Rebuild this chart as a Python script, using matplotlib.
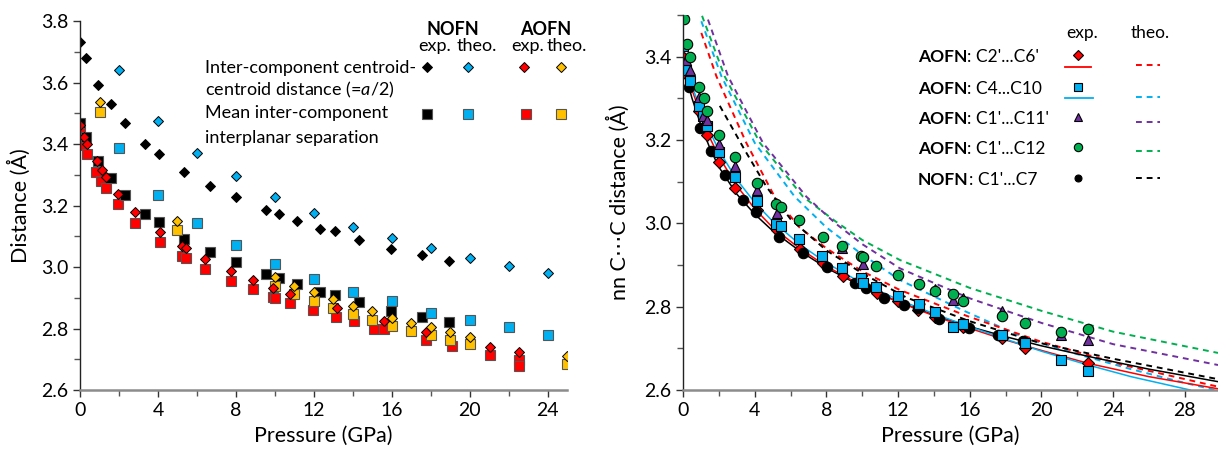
import matplotlib
matplotlib.use('Agg')
import matplotlib.pyplot as plt
from matplotlib.ticker import MultipleLocator

plt.rcParams['font.family'] = ['Lato', 'DejaVu Sans']
plt.rcParams['mathtext.fontset'] = 'custom'
plt.rcParams['mathtext.rm'] = 'Lato'
plt.rcParams['mathtext.it'] = 'Lato:italic'

RED = '#FF0000'
BLUE = '#00B0F0'
GOLD = '#FFC000'
PURPLE = '#7030A0'
GREEN = '#00B050'

# ---------------- left panel data ----------------
nofn_exp_P = [0, 0.29, 0.94, 1.57, 2.31, 3.33, 4.05, 5.33, 6.67, 8.02, 9.57, 10.19, 11.16,
              12.34, 13.08, 14.32, 15.98, 17.57, 18.96]
nofn_exp_cent = [3.733, 3.679, 3.592, 3.53, 3.467, 3.40, 3.368, 3.309, 3.264, 3.228, 3.185, 3.172,
                 3.15, 3.124, 3.116, 3.087, 3.059, 3.038, 3.021]
nofn_exp_plane = [3.467, 3.424, 3.344, 3.289, 3.234, 3.172, 3.145, 3.09, 3.048, 3.015, 2.976, 2.963,
                  2.944, 2.919, 2.91, 2.885, 2.857, 2.837, 2.82]

nofn_theo_P = [2, 4, 6, 8, 10, 12, 14, 16, 18, 20, 22, 24]
nofn_theo_cent = [3.641, 3.474, 3.371, 3.296, 3.229, 3.175, 3.131, 3.094, 3.061, 3.029, 3.003, 2.979]
nofn_theo_plane = [3.388, 3.234, 3.142, 3.072, 3.01, 2.96, 2.919, 2.889, 2.851, 2.828, 2.804, 2.778]

aofn_theo_P = [1, 5, 10, 11, 12, 13, 14, 15, 16, 17, 18, 19, 20, 25]
aofn_theo_cent = [3.536, 3.15, 2.966, 2.939, 2.919, 2.895, 2.873, 2.857, 2.835, 2.817, 2.805, 2.788,
                  2.773, 2.709]
aofn_theo_plane = [3.504, 3.121, 2.938, 2.912, 2.889, 2.868, 2.846, 2.828, 2.809, 2.793, 2.778, 2.763,
                   2.749, 2.686]

aofn_exp_cent_P = [0, 0.2, 0.37, 0.85, 1.11, 1.33, 1.93, 2.82, 4.12, 5.21, 5.44, 6.44, 7.74, 8.89,
                   9.91, 10.77, 13.19, 15.6, 17.78, 21.06, 22.56]
aofn_exp_cent = [3.462, 3.424, 3.40, 3.344, 3.315, 3.294, 3.237, 3.179, 3.115, 3.069, 3.061, 3.025,
                 2.987, 2.958, 2.931, 2.912, 2.868, 2.824, 2.79, 2.739, 2.725]
aofn_exp_plane_P = [0, 0.17, 0.37, 0.82, 1.08, 1.33, 1.93, 2.82, 4.12, 5.21, 5.44, 6.44, 7.74, 8.89,
                    9.91, 10.0, 10.77, 11.97, 13.13, 14.05, 15.09, 15.6, 17.78, 19.08, 21.06, 22.56, 22.56]
aofn_exp_plane = [3.437, 3.397, 3.368, 3.31, 3.28, 3.258, 3.204, 3.144, 3.082, 3.037, 3.028, 2.992,
                  2.955, 2.928, 2.903, 2.898, 2.884, 2.86, 2.838, 2.824, 2.80, 2.797, 2.763, 2.743,
                  2.713, 2.698, 2.679]

# ---------------- right panel data ----------------
c2c6_P = [0.06, 0.22, 0.88, 1.36, 1.99, 2.9, 4.1, 5.22, 6.52, 7.83, 8.9, 10.8, 12.01, 13.12, 14.05,
          15.63, 17.77, 19.07, 22.6]
c2c6 = [3.397, 3.357, 3.27, 3.212, 3.148, 3.084, 3.032, 2.984, 2.938, 2.904, 2.874, 2.832, 2.813,
        2.792, 2.776, 2.752, 2.724, 2.70, 2.664]

c4c10_P = [0, 0.19, 0.41, 0.88, 1.12, 1.36, 1.99, 2.88, 4.13, 5.18, 5.46, 6.47, 7.77, 8.88, 9.93,
           10.02, 10.76, 12.01, 13.16, 14.05, 15.08, 15.63, 17.77, 19.07, 21.08, 22.6]
c4c10 = [3.426, 3.367, 3.341, 3.281, 3.257, 3.234, 3.17, 3.112, 3.054, 2.999, 2.994, 2.962, 2.922,
         2.892, 2.868, 2.857, 2.846, 2.825, 2.806, 2.788, 2.752, 2.758, 2.732, 2.714, 2.673, 2.646]

c1c11_P = [0.19, 0.41, 0.88, 1.12, 1.36, 1.99, 2.88, 4.14, 5.22, 8.85, 10.02, 14.05, 15.08, 15.63,
           17.77, 21.08, 22.6]
c1c11 = [3.393, 3.367, 3.303, 3.258, 3.249, 3.19, 3.138, 3.08, 3.024, 2.94, 2.902, 2.843, 2.816,
         2.822, 2.789, 2.732, 2.72]

c1c12_P = [0.04, 0.22, 0.41, 0.88, 1.15, 1.36, 1.99, 2.88, 4.14, 5.2, 5.48, 6.47, 7.79, 8.88, 9.91,
           10.06, 10.76, 12.01, 13.16, 14.05, 15.08, 15.63, 17.77, 19.07, 21.08, 22.6]
c1c12 = [3.491, 3.43, 3.399, 3.328, 3.301, 3.269, 3.212, 3.158, 3.096, 3.047, 3.04, 3.008, 2.967,
         2.946, 2.922, 2.919, 2.898, 2.875, 2.854, 2.837, 2.83, 2.813, 2.777, 2.762, 2.74, 2.746]

c1c7_P = [0.04, 0.33, 0.97, 1.58, 2.32, 3.35, 4.07, 5.37, 6.71, 8.05, 9.59, 10.2, 11.21, 12.33,
          13.12, 14.3, 15.97, 17.59, 18.98]
c1c7 = [3.385, 3.327, 3.229, 3.174, 3.116, 3.055, 3.026, 2.968, 2.928, 2.894, 2.856, 2.844, 2.822,
        2.804, 2.798, 2.77, 2.748, 2.732, 2.718]

# fitted curves (solid = exp. fit, dashed = theo.)
fit_red_P = [0, 0.5, 1, 1.5, 2, 3, 4, 5, 6.5, 8, 10, 12, 14, 16, 18, 20, 22.6, 26, 29.85]
fit_red = [3.40, 3.32, 3.26, 3.205, 3.16, 3.09, 3.035, 2.99, 2.94, 2.897, 2.85, 2.812, 2.778, 2.748,
           2.72, 2.695, 2.664, 2.632, 2.603]
fit_blue_P = [0, 0.5, 1, 1.5, 2, 3, 4, 5, 6.5, 8, 10, 12, 14, 16, 18, 20, 22.6, 25, 28.3]
fit_blue = [3.41, 3.33, 3.27, 3.22, 3.175, 3.105, 3.05, 3.005, 2.95, 2.905, 2.856, 2.817, 2.783,
            2.752, 2.722, 2.693, 2.66, 2.632, 2.60]
fit_black_P = [0, 0.5, 1, 1.5, 2, 3, 4, 5, 6.5, 8, 10, 12, 14, 16, 18, 20, 23, 26, 29.85]
fit_black = [3.38, 3.30, 3.235, 3.18, 3.135, 3.07, 3.022, 2.982, 2.934, 2.893, 2.848, 2.812, 2.78,
             2.752, 2.728, 2.706, 2.677, 2.65, 2.62]

theo_red_P = [1.02, 1.86, 3.53, 5.11, 6.5, 8, 10, 12.1, 15.82, 19.9, 24.56, 29.85]
theo_red = [3.457, 3.353, 3.193, 3.064, 2.99, 2.94, 2.885, 2.84, 2.778, 2.717, 2.66, 2.608]
theo_blue_P = [1.02, 2.14, 4.0, 6.23, 8, 10, 12.1, 15.63, 19.07, 22, 25, 28, 29.7]
theo_blue = [3.485, 3.353, 3.193, 3.064, 2.99, 2.925, 2.864, 2.791, 2.725, 2.686, 2.65, 2.617, 2.60]
theo_purple_P = [1.39, 2.51, 4.46, 6.88, 8.5, 10, 12.1, 16, 20, 24, 29.85]
theo_purple = [3.489, 3.353, 3.193, 3.064, 3.0, 2.95, 2.892, 2.82, 2.761, 2.71, 2.66]
theo_green_P = [1.06, 2.32, 4.29, 6.69, 8.5, 10, 12.1, 16, 20, 24, 29.85]
theo_green = [3.498, 3.353, 3.193, 3.064, 3.005, 2.96, 2.912, 2.845, 2.79, 2.74, 2.689]
theo_black_P = [2.05, 3.44, 4.65, 6, 8, 10, 12.46, 16, 19.9, 24, 29.85]
theo_black = [3.282, 3.176, 3.088, 3.01, 2.935, 2.88, 2.822, 2.765, 2.713, 2.675, 2.626]


def style_axes(ax, xmax, xlabel, ylabel):
    for s in ['top', 'right']:
        ax.spines[s].set_visible(False)
    ax.spines['bottom'].set_color('#8c8c8c')
    ax.spines['bottom'].set_linewidth(1.8)
    ax.spines['left'].set_color('#222222')
    ax.spines['left'].set_linewidth(1.0)
    ax.xaxis.set_major_locator(MultipleLocator(4))
    ax.xaxis.set_minor_locator(MultipleLocator(2))
    ax.yaxis.set_major_locator(MultipleLocator(0.2))
    ax.yaxis.set_minor_locator(MultipleLocator(0.1))
    ax.tick_params(which='major', length=5, width=1, labelsize=14, color='#333333')
    ax.tick_params(which='minor', length=4, width=1, color='#555555')
    ax.set_xlim(0, xmax)
    ax.set_xlabel(xlabel, fontsize=15.5, labelpad=5)
    ax.set_ylabel(ylabel, fontsize=15.5)
    ax.yaxis.set_major_formatter(plt.FuncFormatter(lambda v, p: f'{v:.1f}'))


fig = plt.figure(figsize=(12.18, 4.57), dpi=100)
ax1 = fig.add_axes([0.0657, 0.1466, 0.3998, 0.8074])
ax2 = fig.add_axes([0.5608, 0.1466, 0.4392, 0.8206])

# ---------------- left panel ----------------
sq = dict(marker='s', ms=7.5, ls='none', mec='#555555', mew=0.8)
dm = dict(marker='D', ms=5, ls='none', mec='black', mew=0.7)
ax1.plot(aofn_exp_plane_P, aofn_exp_plane, mfc=RED, **sq)
ax1.plot(nofn_exp_P, nofn_exp_plane, mfc='black', **sq)
ax1.plot(nofn_theo_P, nofn_theo_plane, mfc=BLUE, **sq)
ax1.plot(aofn_theo_P, aofn_theo_plane, mfc=GOLD, **sq)
ax1.plot(aofn_exp_cent_P, aofn_exp_cent, mfc=RED, **dm)
ax1.plot(nofn_exp_P, nofn_exp_cent, mfc='black', **dm)
ax1.plot(nofn_theo_P, nofn_theo_cent, mfc=BLUE, **dm)
ax1.plot(aofn_theo_P, aofn_theo_cent, mfc=GOLD, **dm)
ax1.set_ylim(2.6, 3.8)
style_axes(ax1, 25, 'Pressure (GPa)', 'Distance (Å)')
ax1.yaxis.set_label_coords(-0.1, 0.5)

# left legend (hand placed, like the original)
t = ax1.transAxes
ax1.text(0.257, 0.873, 'Inter-component centroid-', transform=t, fontsize=13, va='center')
ax1.text(0.257, 0.813, r'centroid distance (=$\mathit{a}$/2)', transform=t, fontsize=13, va='center')
ax1.text(0.257, 0.751, 'Mean inter-component', transform=t, fontsize=13, va='center')
ax1.text(0.257, 0.683, 'interplanar separation', transform=t, fontsize=13, va='center')
ax1.text(0.766, 0.978, 'NOFN', transform=t, fontsize=13, weight='bold', ha='center', va='center')
ax1.text(0.957, 0.978, 'AOFN', transform=t, fontsize=13, weight='bold', ha='center', va='center')
for x, s in [(0.729, 'exp.'), (0.815, 'theo.'), (0.920, 'exp.'), (1.0, 'theo.')]:
    ax1.text(x, 0.932, s, transform=t, fontsize=13, ha='center', va='center')
for x, c in [(0.7125, 'black'), (0.797, BLUE), (0.912, RED), (0.988, GOLD)]:
    ax1.plot([x], [0.875], transform=t, mfc=c, clip_on=False, **dm)
for x, c in [(0.7125, 'black'), (0.797, BLUE), (0.916, RED), (0.988, GOLD)]:
    ax1.plot([x], [0.748], transform=t, mfc=c, clip_on=False, **sq)

# ---------------- right panel ----------------
ax2.plot(theo_green_P, theo_green, color=GREEN, ls=(0, (3, 2.5)), lw=1.4)
ax2.plot(theo_purple_P, theo_purple, color=PURPLE, ls=(0, (3, 2.5)), lw=1.4)
ax2.plot(theo_blue_P, theo_blue, color=BLUE, ls=(0, (3, 2.5)), lw=1.4)
ax2.plot(theo_red_P, theo_red, color=RED, ls=(0, (3, 2.5)), lw=1.4)
ax2.plot(theo_black_P, theo_black, color='black', ls=(0, (3, 2.5)), lw=1.4)
ax2.plot(fit_black_P, fit_black, color='black', lw=1.1)
ax2.plot(fit_red_P, fit_red, color=RED, lw=1.1)
ax2.plot(fit_blue_P, fit_blue, color=BLUE, lw=1.1)

mk = dict(ls='none', mec='black', mew=0.8)
ax2.plot(c2c6_P, c2c6, marker='D', ms=6, mfc=RED, **mk)
ax2.plot(c1c7_P, c1c7, marker='o', ms=7.5, mfc='black', **mk)
ax2.plot(c4c10_P, c4c10, marker='s', ms=7, mfc=BLUE, **mk)
ax2.plot(c1c11_P, c1c11, marker='^', ms=7.5, mfc=PURPLE, **mk)
ax2.plot(c1c12_P, c1c12, marker='o', ms=7.5, mfc=GREEN, **mk)
ax2.set_ylim(2.6, 3.5)
style_axes(ax2, 29.85, 'Pressure (GPa)', 'nn C\u22efC distance (Å)')
ax2.yaxis.set_label_coords(-0.1, 0.5)

t2 = ax2.transAxes
ax2.text(0.746, 0.952, 'exp.', transform=t2, fontsize=12.5, ha='center', va='center')
ax2.text(0.873, 0.952, 'theo.', transform=t2, fontsize=12.5, ha='center', va='center')
rows = [('AOFN', ": C2'...C6'", 0.888, 'D', RED, 5.5),
        ('AOFN', ': C4...C10', 0.803, 's', BLUE, 6),
        ('AOFN', ": C1'...C11'", 0.723, '^', PURPLE, 6),
        ('AOFN', ": C1'...C12", 0.643, 'o', GREEN, 6),
        ('NOFN', ": C1'...C7", 0.56, 'o', 'black', 5)]
dash_y = [0.867, 0.781, 0.715, 0.637, 0.565]
for (b, rest, y, m, c, ms), dy in zip(rows, dash_y):
    tb = ax2.text(0.439, y, b, transform=t2, fontsize=12.5, weight='bold', va='center')
    ax2.annotate(rest, xycoords=tb, xy=(1, 0.5), va='center', fontsize=12.5)
    ax2.plot([0.738], [y + 0.005], transform=t2, marker=m, ms=ms, mfc=c, clip_on=False, **mk)
    ax2.plot([0.847, 0.892], [dy, dy], transform=t2, color=c, ls=(0, (3, 2.5)), lw=1.4, clip_on=False)
ax2.plot([0.714, 0.763], [0.861, 0.861], transform=t2, color=RED, lw=1.3)
ax2.plot([0.714, 0.766], [0.779, 0.779], transform=t2, color=BLUE, lw=1.3)

fig.savefig('out.png', dpi=100)
